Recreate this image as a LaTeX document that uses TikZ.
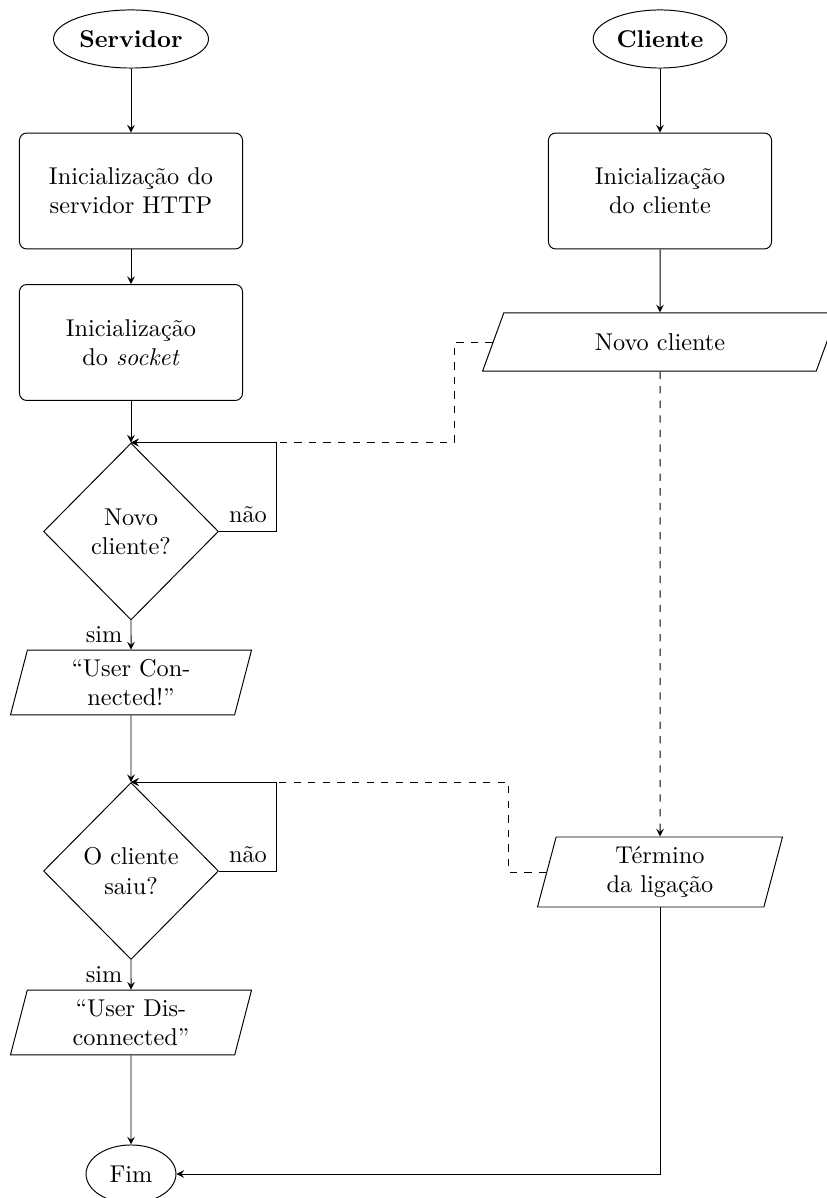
\documentclass[tikz,border=0pt]{standalone}
\usetikzlibrary{shapes.geometric,arrows}
\begin{document}
\begin{tikzpicture}[x=0.4115pt,y=-0.4115pt,>=stealth,
  terminal/.style={ellipse,draw,inner sep=0pt,minimum height=23.9pt},
  proc/.style={rectangle,draw,rounded corners=3pt,minimum width=91.8pt,minimum height=47.7pt,align=center},
  io/.style={trapezium,draw,trapezium left angle=70,trapezium right angle=110,
             trapezium stretches body,align=center,inner sep=0pt},
  decis/.style={diamond,draw,align=center,inner sep=0pt,minimum width=72pt,minimum height=72.8pt},
  flow/.style={draw,->},
  flowd/.style={draw,dashed,->}]
\useasboundingbox (0,0) rectangle (826,1198);

% server column
\node[terminal,minimum width=63.8pt,font=\bfseries] (serv) at (131,39) {Servidor};
\node[proc] (ihttp) at (131,191) {Inicialização do\\servidor HTTP};
\node[proc] (isock) at (131,342.5) {Inicialização\\do \emph{socket}};
\node[decis] (qnovo) at (131,531.5) {Novo\\cliente?};
\node[io,minimum width=99.2pt,minimum height=26.7pt] (conn) at (131,682.5) {“User Con-\\nected!”};
\node[decis] (qsaiu) at (131,871) {O cliente\\saiu?};
\node[io,minimum width=99.2pt,minimum height=26.7pt] (disc) at (131,1022.5) {“User Dis-\\connected”};
\node[terminal,minimum width=37pt] (fim) at (131,1174) {Fim};

% client column
\node[terminal,minimum width=55pt,font=\bfseries] (cli) at (660,39) {Cliente};
\node[proc] (icli) at (660,191) {Inicialização\\do cliente};
\node[io,minimum width=146pt,inner ysep=8.5pt,text height=6.94pt,text depth=0pt] (novo) at (660,342) {Novo cliente};
\node[io,minimum width=100.8pt,minimum height=28.8pt] (fimlig) at (660,872) {Término\\da ligação};

% server flow
\draw[flow] (serv) -- (ihttp);
\draw[flow] (ihttp) -- (isock);
\draw[flow] (isock) -- (qnovo);
\draw[flow] (qnovo) -- node[left] {sim} (conn);
\draw[flow] (qnovo.east) -- node[above] {não} ++(58,0) |- (qnovo.north);
\draw[flow] (conn) -- (qsaiu);
\draw[flow] (qsaiu) -- node[left] {sim} (disc);
\draw[flow] (qsaiu.east) -- node[above] {não} ++(58,0) |- (qsaiu.north);
\draw[flow] (disc) -- (fim);

% client flow
\draw[flow] (cli) -- (icli);
\draw[flow] (icli) -- (novo);
\draw[flowd] (novo) -- (fimlig);
\draw[flow] (fimlig) |- (fim);

% messages between the two sides
\draw[flowd] (novo.west) -- ++(-38,0) |- (qnovo.north);
\draw[flowd] (fimlig.west) -- ++(-38,0) |- (qsaiu.north);
\end{tikzpicture}
\end{document}
